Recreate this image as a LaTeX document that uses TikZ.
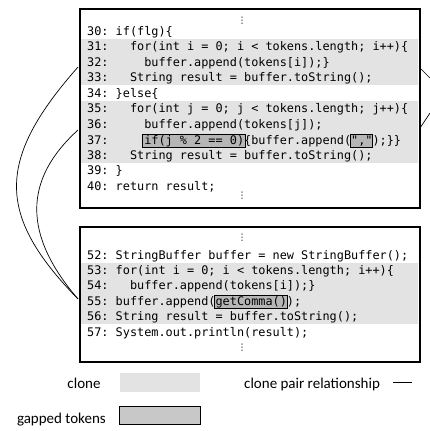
\documentclass[tikz,border=0pt]{standalone}
\usepackage{fontspec}
\setmonofont{DejaVu Sans Mono}
\newfontfamily\legendfont{Carlito}
\newfontfamily\symbolfont{DejaVu Sans}
\definecolor{clonegray}{HTML}{E3E3E3}
\definecolor{gapgray}{HTML}{B6B6B6}
\definecolor{gaplegend}{HTML}{C8C8C8}
\tikzset{
  codebox/.style={draw=black, line width=2.2pt, rectangle, inner sep=0pt, anchor=north west},
  clonearea/.style={fill=clonegray, draw=none},
  gapbox/.style={fill=gapgray, draw=black, line width=0.8pt},
  code/.style={anchor=base west, inner sep=0pt, font=\ttfamily\fontsize{11.85}{14}\selectfont},
  vdots/.style={inner sep=0pt, font=\symbolfont\fontsize{9}{10}\selectfont},
  legend/.style={inner sep=0pt, anchor=base, font=\legendfont\fontsize{15}{17}\selectfont},
  pairline/.style={draw=black, line width=0.7pt},
}
\begin{document}
\begin{tikzpicture}[x=1pt, y=-1pt]
\useasboundingbox (0,0) rectangle (430,431);

% ---- upper fragment (lines 30-40) ----
\fill[clonearea] (80,38.8) rectangle (418,85.2);
\fill[clonearea] (80,100.8) rectangle (418,162.7);
% gapped tokens in line 37
\filldraw[gapbox] (142.5,134.5) rectangle (245,147.5);
\filldraw[gapbox] (350.5,134.5) rectangle (372,147.5);
\node[codebox, minimum width=340pt, minimum height=199pt] (topbox) at (79,8) {};

\node[vdots] (dtop1) at (242,21) {⋮};
\node[code] (l30) at (87,35)    {30: if(flg)\{};
\node[code] (l31) at (87,50.5)  {31:\ \ \ for(int i = 0; i < tokens.length; i++)\{};
\node[code] (l32) at (87,66)    {32:\ \ \ \ \ buffer.append(tokens[i]);\}};
\node[code] (l33) at (87,81.5)  {33:\ \ \ String result = buffer.toString();};
\node[code] (l34) at (87,97)    {34: \}else\{};
\node[code] (l35) at (87,112.5) {35:\ \ \ for(int j = 0; j < tokens.length; j++)\{};
\node[code] (l36) at (87,128)   {36:\ \ \ \ \ buffer.append(tokens[j]);};
\node[code] (l37) at (87,144.5) {37:\ \ \ \ \ if(j \% 2 == 0)\{buffer.append(",");\}\}};
\node[code] (l38) at (87,159.5) {38:\ \ \ String result = buffer.toString();};
\node[code] (l39) at (87,174.5) {39: \}};
\node[code] (l40) at (87,190)   {40: return result;};
\node[vdots] (dtop2) at (242,196) {⋮};

% ---- lower fragment (lines 52-57) ----
\fill[clonearea] (80,262.7) rectangle (418,324.3);
\filldraw[gapbox] (214.5,295) rectangle (287.5,308);
\node[codebox, minimum width=340pt, minimum height=135pt] (botbox) at (79,226) {};

\node[vdots] (dbot1) at (242,238) {⋮};
\node[code] (l52) at (87,259)   {52: StringBuffer buffer = new StringBuffer();};
\node[code] (l53) at (87,274.4) {53: for(int i = 0; i < tokens.length; i++)\{};
\node[code] (l54) at (87,289.8) {54:\ \ \ buffer.append(tokens[i]);\}};
\node[code] (l55) at (87,305.2) {55: buffer.append(getComma());};
\node[code] (l56) at (87,320.6) {56: String result = buffer.toString();};
\node[code] (l57) at (87,336)   {57: System.out.println(result);};
\node[vdots] (dbot2) at (242,348) {⋮};

% ---- clone pair relationships ----
\coordinate (ca) at (78,67);
\coordinate (cb) at (78,130);
\coordinate (cc) at (78,299);
\draw[pairline] (ca) .. controls (-4,160) and (-4,215) .. (cc);
\draw[pairline] (cb) .. controls (23,180) and (23,235) .. (cc);
\coordinate (ra) at (420,68);
\coordinate (rb) at (420,128);
\coordinate (ra2) at (430,78);
\coordinate (rb2) at (430,113);
\draw[pairline] (ra) -- (ra2);
\draw[pairline] (rb) -- (rb2);

% ---- legend ----
\node[legend] (lgclone) at (84,388) {clone};
\fill[clonearea] (120,373) rectangle (200,392);
\node[legend, anchor=base west] (lgpair) at (244,388) {clone pair relationship};
\coordinate (lp1) at (393,382);
\coordinate (lp2) at (412,382);
\draw[pairline] (lp1) -- (lp2);
\node[legend, anchor=base east] (lggap) at (106,423) {gapped tokens};
\filldraw[fill=gaplegend, draw=black, line width=0.8pt] (119.5,406) rectangle (200,424);
\end{tikzpicture}
\end{document}
